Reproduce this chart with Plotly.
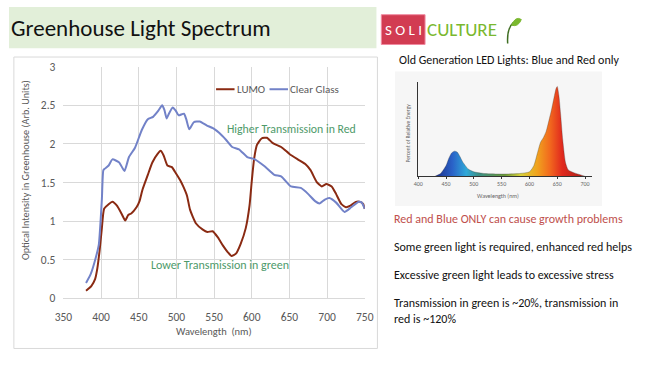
import plotly.graph_objects as go

# ---------------- data ----------------
lumo_wl = [380, 387, 392, 395, 398, 401, 404, 410, 415, 421, 427, 432, 436, 440, 447, 451,
           455, 462, 468, 475, 479, 483, 488, 494, 498, 505, 509, 514, 518, 526, 535, 541,
           548, 555, 562, 568, 573, 579, 585, 592, 597, 600, 603, 607, 613, 620, 628, 639,
           650, 661, 671, 678, 686, 693, 699, 706, 712, 719, 725, 731, 738, 744, 748, 750]
lumo_val = [0.10, 0.16, 0.25, 0.39, 0.62, 0.91, 1.16, 1.22, 1.25, 1.20, 1.10, 1.01, 1.08, 1.10, 1.18, 1.26,
            1.41, 1.60, 1.76, 1.87, 1.91, 1.85, 1.72, 1.70, 1.64, 1.53, 1.45, 1.33, 1.15, 0.97, 0.89, 0.86,
            0.87, 0.79, 0.68, 0.60, 0.55, 0.58, 0.70, 0.91, 1.20, 1.52, 1.80, 1.99, 2.07, 2.08, 2.01, 1.96,
            1.87, 1.80, 1.74, 1.66, 1.51, 1.45, 1.48, 1.45, 1.35, 1.22, 1.18, 1.20, 1.25, 1.25, 1.22, 1.16]

glass_wl = [380, 386, 393, 397, 401, 403, 405, 410, 415, 424, 431, 437, 445, 454, 462, 469, 476,
            481, 484, 487, 490, 495, 499, 503, 510, 513, 517, 523, 531, 540, 549, 557, 566, 574,
            583, 594, 604, 617, 630, 639, 652, 665, 675, 684, 690, 697, 703, 712, 723, 732, 742,
            746, 750]
glass_val = [0.20, 0.31, 0.53, 0.70, 1.28, 1.66, 1.68, 1.72, 1.80, 1.76, 1.65, 1.83, 1.95, 2.18, 2.32, 2.35, 2.43,
             2.50, 2.44, 2.33, 2.39, 2.47, 2.43, 2.37, 2.39, 2.32, 2.19, 2.28, 2.29, 2.24, 2.20, 2.14, 2.05, 1.96,
             1.93, 1.83, 1.80, 1.71, 1.60, 1.58, 1.45, 1.43, 1.35, 1.26, 1.23, 1.28, 1.30, 1.24, 1.12, 1.18, 1.25,
             1.24, 1.16]

led_wl = [430, 440, 450, 455, 460, 465, 470, 475, 480, 490, 500, 520, 550, 580, 600, 608, 614,
          620, 625, 630, 635, 640, 645, 648, 650, 653, 656, 660, 665, 670, 680, 690, 700]
led_val = [0.00, 0.03, 0.12, 0.20, 0.26, 0.28, 0.27, 0.22, 0.16, 0.08, 0.05, 0.03, 0.025, 0.03, 0.05, 0.12, 0.25,
           0.38, 0.43, 0.50, 0.62, 0.75, 0.90, 0.98, 1.00, 0.90, 0.70, 0.40, 0.15, 0.07, 0.04, 0.02, 0.00]

x_ticks = [350, 400, 450, 500, 550, 600, 650, 700, 750]
y_ticks = [0, 0.5, 1, 1.5, 2, 2.5, 3]
y_tick_labels = ["0", "0.5", "1", "1.5", "2", "2.5", "3"]
inset_ticks = [400, 450, 500, 550, 600, 650, 700]

series_names = ["LUMO", "Clear Glass"]
series_colors = ["#8a2a12", "#7282c8"]

W, H = 645, 367
FONT = "Carlito, Lato"
GRAY = "#595959"


def px(x):
    return x / W


def py(y):
    return 1 - y / H


fig = go.Figure()

fig.add_trace(go.Scatter(x=lumo_wl, y=lumo_val, mode="lines", name=series_names[0], showlegend=False,
                         line=dict(color=series_colors[0], width=2, shape="spline", smoothing=0.5)))
fig.add_trace(go.Scatter(x=glass_wl, y=glass_val, mode="lines", name=series_names[1], showlegend=False,
                         line=dict(color=series_colors[1], width=2, shape="spline", smoothing=0.5)))

fig.add_trace(go.Scatter(x=led_wl, y=led_val, mode="lines", xaxis="x2", yaxis="y2", showlegend=False,
                         line=dict(color="rgba(60,60,60,0.5)", width=0.6, shape="spline", smoothing=0.6),
                         fill="tozeroy",
                         fillgradient=dict(type="horizontal", start=430, stop=700,
                                           colorscale=[[0.0, "#1c2f8a"], [0.11, "#2a62c8"],
                                                       [0.2, "#2fa8d8"], [0.28, "#3a8f86"],
                                                       [0.45, "#6d9a3a"], [0.55, "#d8d23a"],
                                                       [0.66, "#f0a21e"], [0.74, "#f26a1e"],
                                                       [0.82, "#e12a1e"], [1.0, "#9a1c14"]])))

shapes = [
    # header band
    dict(type="rect", xref="paper", yref="paper", x0=0, x1=px(378), y0=py(43), y1=1,
         fillcolor="#e2efd9", line=dict(width=0), layer="below"),
    # chart frame
    dict(type="rect", xref="paper", yref="paper", x0=px(5), x1=px(379), y0=py(355), y1=py(52),
         fillcolor="white", line=dict(color="#d9d9d9", width=1), layer="below"),
    # logo box
    dict(type="rect", xref="paper", yref="paper", x0=px(383), x1=px(428), y0=py(39), y1=py(8),
         fillcolor="#d23c52", line=dict(color="#f08aa0", width=1), layer="below"),
    # inset background
    dict(type="rect", xref="paper", yref="paper", x0=px(397), x1=px(610), y0=py(207), y1=py(67),
         fillcolor="#f6f6f6", line=dict(width=0), layer="below"),
    # sprout stem
    dict(type="path", xref="paper", yref="paper",
         path=f"M {px(513)},{py(38)} Q {px(512)},{py(22)} {px(519)},{py(16)}",
         line=dict(color="#3f6e22", width=1.5)),
    # sprout leaf
    dict(type="path", xref="paper", yref="paper",
         path=f"M {px(517)},{py(19)} Q {px(521)},{py(9)} {px(527)},{py(13)} Q {px(524)},{py(21)} {px(517)},{py(19)} Z",
         fillcolor="#7ab82e", line=dict(color="#7ab82e", width=1)),
    # legend keys
    dict(type="line", xref="paper", yref="paper", x0=px(213), x1=px(232), y0=py(85.5), y1=py(85.5),
         line=dict(color=series_colors[0], width=2)),
    dict(type="line", xref="paper", yref="paper", x0=px(268), x1=px(287), y0=py(85.5), y1=py(85.5),
         line=dict(color=series_colors[1], width=2)),
]

annotations = [
    dict(text="Greenhouse Light Spectrum", x=px(0), y=py(22), xref="paper", yref="paper",
         xanchor="left", yanchor="middle", showarrow=False,
         font=dict(family=FONT, size=23, color="#111111")),
    dict(text="S O L I", x=px(405.5), y=py(23.5), xref="paper", yref="paper",
         xanchor="center", yanchor="middle", showarrow=False,
         font=dict(family=FONT, size=15, color="white")),
    dict(text="CULTURE", x=px(428), y=py(23.5), xref="paper", yref="paper",
         xanchor="left", yanchor="middle", showarrow=False,
         font=dict(family=FONT, size=19, color="#7ab82e")),
    dict(text=series_names[0], x=px(232), y=py(85.5), xref="paper", yref="paper", showarrow=False,
         xanchor="left", yanchor="middle", font=dict(family=FONT, size=11, color=GRAY)),
    dict(text=series_names[1], x=px(287), y=py(85.5), xref="paper", yref="paper", showarrow=False,
         xanchor="left", yanchor="middle", font=dict(family=FONT, size=11, color=GRAY)),
    dict(text="Optical Intensity in Greenhouse (Arb. Units)", x=px(17), y=py(170), xref="paper",
         yref="paper", textangle=-90, showarrow=False, xanchor="center", yanchor="middle",
         font=dict(family=FONT, size=10.2, color=GRAY)),
    dict(text="Wavelength  (nm)", x=px(211), y=py(337), xref="paper", yref="paper", showarrow=False,
         xanchor="center", yanchor="middle", font=dict(family=FONT, size=10.5, color=GRAY)),
    dict(text="Higher Transmission in Red", x=px(291), y=py(127), xref="paper", yref="paper",
         showarrow=False, xanchor="center", yanchor="middle",
         font=dict(family=FONT, size=11.8, color="#4e9a6a")),
    dict(text="Lower Transmission in green", x=px(217), y=py(268), xref="paper", yref="paper",
         showarrow=False, xanchor="center", yanchor="middle",
         font=dict(family=FONT, size=12, color="#4e9a6a")),
    dict(text="Old Generation LED Lights: Blue and Red only", x=px(514), y=py(55), xref="paper",
         yref="paper", showarrow=False, xanchor="center", yanchor="middle",
         font=dict(family=FONT, size=12, color="#111111")),
    dict(text="Percent of Relative Energy", x=px(410), y=py(131), xref="paper", yref="paper",
         textangle=-90, showarrow=False, xanchor="center", yanchor="middle",
         font=dict(family=FONT, size=5.5, color="#666666")),
    dict(text="Wavelength (nm)", x=px(503), y=py(197), xref="paper", yref="paper", showarrow=False,
         xanchor="center", yanchor="middle", font=dict(family=FONT, size=6, color="#666666")),
    dict(text="Red and Blue ONLY can cause growth problems", x=px(394), y=py(220), xref="paper",
         yref="paper", showarrow=False, xanchor="left", yanchor="middle",
         font=dict(family=FONT, size=12, color="#c0504d")),
    dict(text="Some green light is required, enhanced red helps", x=px(394), y=py(250), xref="paper",
         yref="paper", showarrow=False, xanchor="left", yanchor="middle",
         font=dict(family=FONT, size=12, color="#111111")),
    dict(text="Excessive green light leads to excessive stress", x=px(394), y=py(279), xref="paper",
         yref="paper", showarrow=False, xanchor="left", yanchor="middle",
         font=dict(family=FONT, size=12, color="#111111")),
    dict(text="Transmission in green is ~20%, transmission in<br>red is ~120%", x=px(394), y=py(316),
         xref="paper", yref="paper", showarrow=False, xanchor="left", yanchor="middle", align="left",
         font=dict(family=FONT, size=12, color="#111111")),
]

fig.update_layout(
    width=W, height=H, autosize=False,
    margin=dict(l=0, r=0, t=0, b=0),
    paper_bgcolor="white", plot_bgcolor="rgba(0,0,0,0)",
    font=dict(family=FONT, color=GRAY),
    shapes=shapes, annotations=annotations,
    showlegend=False,
    xaxis=dict(domain=[px(56), px(366)], range=[350, 750], tickvals=x_ticks, showgrid=True,
               gridcolor="#d9d9d9", gridwidth=1, zeroline=False, showline=True, linecolor="#d9d9d9",
               ticks="", ticklabelstandoff=8, tickfont=dict(family=FONT, size=11.5, color=GRAY),
               anchor="y", fixedrange=True),
    yaxis=dict(domain=[py(303), py(62)], range=[0, 3], tickvals=y_ticks, ticktext=y_tick_labels,
               showgrid=True, gridcolor="#d9d9d9", gridwidth=1, zeroline=False, showline=False,
               ticks="", ticklabelstandoff=7, tickfont=dict(family=FONT, size=11.5, color=GRAY),
               anchor="x", fixedrange=True),
    xaxis2=dict(domain=[px(421), px(600)], range=[400, 713], tickvals=inset_ticks, showgrid=False,
                zeroline=False, showline=True, linecolor="#333333", linewidth=1, ticks="outside",
                ticklen=2, tickcolor="#333333", tickfont=dict(family=FONT, size=6, color="#666666"),
                anchor="y2", fixedrange=True),
    yaxis2=dict(domain=[py(176), py(78)], range=[0, 1.05], showgrid=False, zeroline=False,
                showline=True, linecolor="#333333", linewidth=1, showticklabels=False, ticks="",
                anchor="x2", fixedrange=True),
)

fig.write_html("out.html", config={"displayModeBar": False},
               post_script="document.body.style.margin='0px';document.body.style.padding='0px';"
                           "document.documentElement.style.overflow='hidden';")
